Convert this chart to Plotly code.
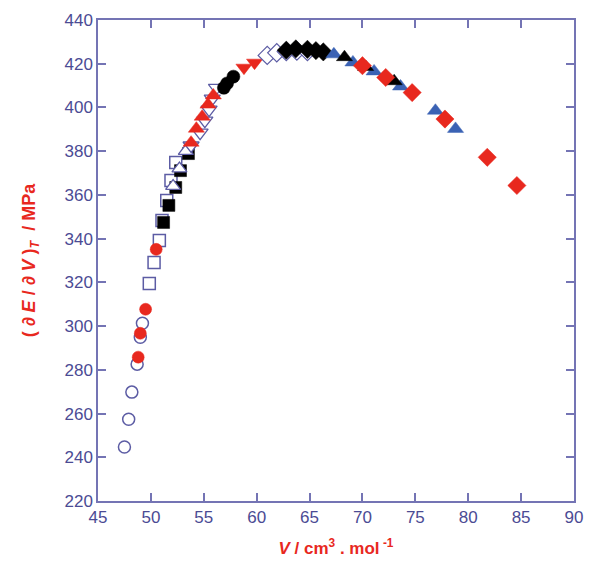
import plotly.graph_objects as go

# ---- data ----
open_circ_x = [47.5, 47.9, 48.2, 48.7, 49.0, 49.2]
open_circ_y = [244.7, 257.4, 269.8, 282.6, 294.9, 301.3]

red_circ_x = [48.8, 49.0, 49.5, 50.5]
red_circ_y = [285.8, 296.7, 307.7, 335.1]

open_sq_x = [49.85, 50.3, 50.8, 51.05, 51.5, 51.9, 52.35]
open_sq_y = [319.5, 329.1, 339.2, 348.3, 357.4, 366.6, 374.8]

black_sq_x = [51.2, 51.7, 52.35, 52.8, 53.55]
black_sq_y = [347.4, 355.2, 363.4, 371.1, 378.9]

open_up_x = [52.1, 52.7, 53.3]
open_up_y = [364.0, 372.0, 380.0]

open_dn_x = [53.8, 54.65, 55.1, 55.5, 55.8, 56.2]
open_dn_y = [382.6, 388.5, 394.0, 399.0, 404.0, 409.0]

red_up_x = [53.8, 54.3, 54.85, 55.4, 55.9]
red_up_y = [383.9, 390.3, 395.8, 401.3, 405.5]

black_circ_x = [56.9, 57.2, 57.8]
black_circ_y = [409.0, 411.0, 414.1]

red_dn_x = [58.8, 59.8]
red_dn_y = [418.2, 420.5]

open_dia_x = [61.0, 61.9, 62.8, 63.8, 64.8]
open_dia_y = [423.8, 425.0, 425.6, 425.8, 425.6]

black_dia_x = [62.8, 63.7, 64.8, 65.6, 66.3]
black_dia_y = [426.2, 426.8, 426.6, 426.0, 425.4]

blue_up_x = [67.3, 69.1, 71.1, 73.6, 76.9, 78.8]
blue_up_y = [424.3, 420.6, 416.5, 409.6, 398.5, 390.2]

black_up_x = [68.3, 70.3, 73.0]
black_up_y = [423.0, 418.5, 412.0]

red_dia_x = [70.0, 72.2, 74.7, 77.8, 81.8, 84.6]
red_dia_y = [419.1, 413.7, 406.8, 394.7, 377.2, 364.3]

x_ticks = [45, 50, 55, 60, 65, 70, 75, 80, 85, 90]
y_ticks = [220, 240, 260, 280, 300, 320, 340, 360, 380, 400, 420, 440]

RED = "#e8281e"
NAVY = "#5c5ca4"
BLUE = "#3b62b4"
AXIS = "#7474b4"
TICKC = "#4b4b94"

fig = go.Figure()

def add(x, y, symbol, fill, line, size=12, lw=1.5):
    fig.add_trace(go.Scatter(
        x=x, y=y, mode="markers",
        marker=dict(symbol=symbol, size=size, color=fill,
                    line=dict(color=line, width=lw)),
        showlegend=False, hoverinfo="skip"))

add(open_circ_x, open_circ_y, "circle", "rgba(255,255,255,0)", NAVY, 12, 1.5)
add(open_sq_x, open_sq_y, "square", "white", NAVY, 12, 1.5)
add(red_circ_x, red_circ_y, "circle", RED, RED, 12, 0.5)
add(black_sq_x, black_sq_y, "square", "black", "black", 12, 0.5)
add(open_up_x, open_up_y, "triangle-up", "white", NAVY, 13, 1.3)
add(open_dn_x, open_dn_y, "triangle-down", "white", NAVY, 14, 1.3)
add(red_up_x, red_up_y, "triangle-up", RED, RED, 14, 0.5)
add(black_circ_x, black_circ_y, "circle", "black", "black", 13, 0.5)
add(red_dn_x, red_dn_y, "triangle-down", RED, RED, 14, 0.5)
add(open_dia_x, open_dia_y, "diamond", "white", NAVY, 14, 1.2)
add(black_dia_x, black_dia_y, "diamond", "black", "black", 14, 0.5)
add(blue_up_x, blue_up_y, "triangle-up", BLUE, BLUE, 14, 0.5)
add(black_up_x, black_up_y, "triangle-up", "black", "black", 14, 0.5)
add(red_dia_x, red_dia_y, "diamond", RED, RED, 14, 0.5)

axis_common = dict(
    showgrid=False, zeroline=False, showline=True, linecolor=AXIS, linewidth=1.5,
    mirror="ticks", ticks="inside", ticklen=8, tickwidth=1.5, tickcolor=AXIS,
    tickfont=dict(family="Arial, Liberation Sans", size=17, color=TICKC),
)

fig.update_layout(
    width=594, height=567,
    margin=dict(l=98, r=11, t=19, b=66),
    paper_bgcolor="white", plot_bgcolor="white",
    xaxis=dict(range=[45, 90], tickvals=x_ticks,
               title=dict(text="<b><i>V</i> / cm<sup>3</sup> . mol<sup> -1</sup></b>",
                          font=dict(family="Arial, Liberation Sans", size=17, color=RED),
                          standoff=16),
               **axis_common),
    yaxis=dict(range=[220, 440], tickvals=y_ticks,
               title=dict(text="<b>( ∂ <i>E</i> / ∂ <i>V</i> )<sub><i>T</i></sub>  / MPa</b>",
                          font=dict(family="Arial, Liberation Sans", size=18, color=RED),
                          standoff=24),
               **axis_common),
)

fig.write_html("out.html")
